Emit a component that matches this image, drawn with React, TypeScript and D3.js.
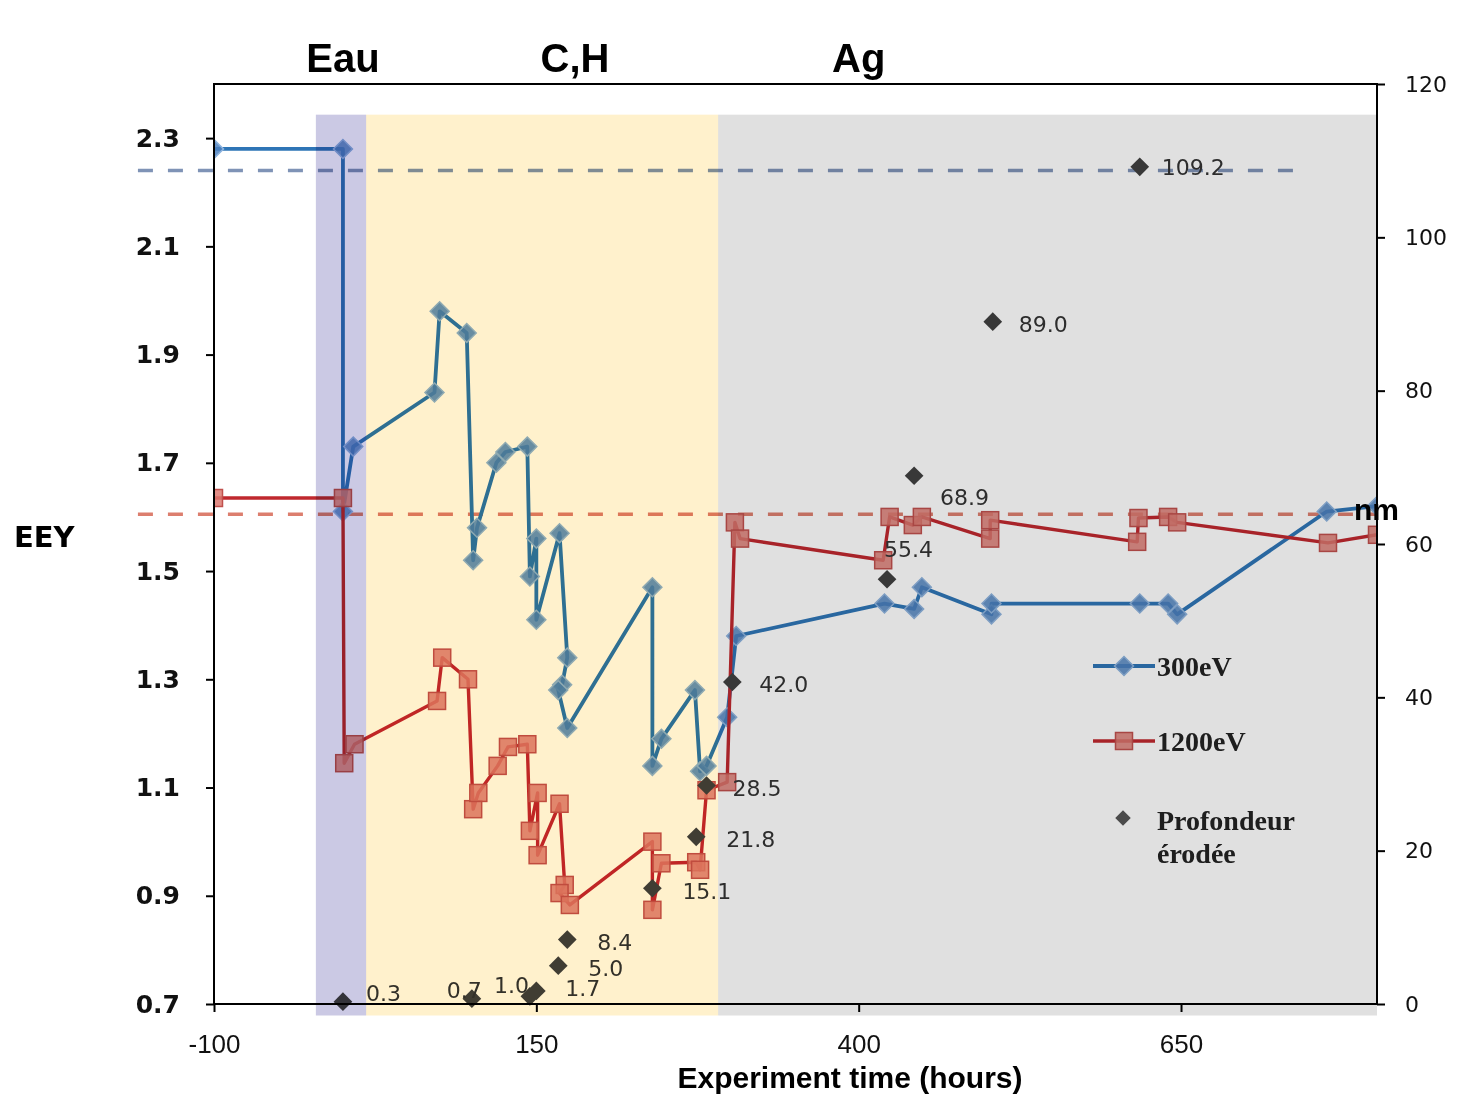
import React, { useEffect, useRef } from 'react';
import * as d3 from 'd3';

// EEY, 300 eV (left axis)
const hours300 = [-100, 0, 0, 8, 71, 75, 96, 101, 104, 119, 126, 143, 145, 150, 150, 168, 174, 170, 167, 174, 240, 240, 247, 273, 277, 282, 298, 305, 420, 443, 449, 503, 503, 618, 640, 647, 763, 802];
const eey300 = [2.28, 2.28, 1.61, 1.73, 1.83, 1.98, 1.94, 1.52, 1.58, 1.7, 1.72, 1.73, 1.49, 1.56, 1.41, 1.57, 1.34, 1.29, 1.28, 1.21, 1.47, 1.14, 1.19, 1.28, 1.13, 1.14, 1.23, 1.38, 1.44, 1.43, 1.47, 1.42, 1.44, 1.44, 1.44, 1.42, 1.61, 1.62];

// EEY, 1200 eV (left axis)
const hours1200 = [-100, 0, 1, 9, 73, 77, 97, 101, 105, 120, 128, 143, 145, 151, 151, 168, 172, 168, 176, 240, 240, 247, 274, 277, 282, 298, 304, 308, 419, 424, 442, 449, 502, 502, 616, 617, 640, 647, 764, 802];
const eey1200 = [1.635, 1.635, 1.145, 1.18, 1.26, 1.34, 1.3, 1.06, 1.09, 1.14, 1.175, 1.18, 1.02, 1.09, 0.975, 1.07, 0.92, 0.905, 0.883, 1.0, 0.874, 0.96, 0.962, 0.948, 1.095, 1.11, 1.59, 1.56, 1.52, 1.6, 1.585, 1.6, 1.56, 1.594, 1.554, 1.598, 1.6, 1.59, 1.552, 1.567];

// eroded depth in nm (right axis)
const depthHours = [0, 100, 145, 150, 167, 174, 240, 274, 282, 302, 422, 443, 504, 618];
const depthNm = [0.3, 0.7, 1.0, 1.7, 5.0, 8.4, 15.1, 21.8, 28.5, 42.0, 55.4, 68.9, 89.0, 109.2];

// experiment phases
const phaseNames = ['Eau', 'C,H', 'Ag'];
const phaseStart = [-21, 18, 291];
const phaseEnd = [18, 291, 802];
const phaseLabelAt = [0, 180, 400];

// dashed reference levels (EEY)
const refLevels = [2.24, 1.605];
const refFrom = [-159, -159];
const refTo = [746, 802];

const xTicks = [-100, 150, 400, 650];
const eeyTicks = [0.7, 0.9, 1.1, 1.3, 1.5, 1.7, 1.9, 2.1, 2.3];
const nmTicks = [0, 20, 40, 60, 80, 100, 120];

const legendNames = ['300eV', '1200eV', 'Profondeur', 'érodée'];

// label nudges for the depth values [dx, dy] in px
const depthLabelNudge = [[23, -8], [-25, -8], [-36, -11], [29, -2], [30, 3], [30, 3], [30, 3], [30, 3], [26, 3], [27, 2], [-3, -30], [26, 22], [26, 3], [22, 1]];

const W = 1457;
const H = 1096;
const plot = { left: 214, right: 1377, top: 84, bottom: 1004 };

const colors = {
  blueLine: '#2e75b6',
  blueFill: '#4f83c0',
  blueEdge: '#8fb4de',
  redLine: '#c0282e',
  redFill: '#dc7a72',
  redEdge: '#c0504d',
  depth: '#404040',
  refBlue: '#7f93b6',
  refRed: '#dc7e6e',
  bands: ['#cbc9e4', '#fff1cc', '#e0e0e0'],
};

const App = () => {
  const svgRef = useRef(null);

  useEffect(() => {
    document.body.style.margin = '0';
    if (!svgRef.current) return;
    const svg = d3.select(svgRef.current);
    svg.selectAll('*').remove();

    const x = d3.scaleLinear().domain([-100, 802]).range([plot.left, plot.right]);
    const yL = d3.scaleLinear().domain([0.7, 2.4]).range([plot.bottom, plot.top]);
    const yR = d3.scaleLinear().domain([0, 120]).range([plot.bottom, plot.top]);

    svg.append('rect').attr('width', W).attr('height', H).attr('fill', '#fff');

    svg.append('clipPath').attr('id', 'plotClip')
      .append('rect')
      .attr('x', plot.left).attr('y', plot.top)
      .attr('width', plot.right - plot.left).attr('height', plot.bottom - plot.top);

    // dashed reference levels
    refLevels.forEach((v, i) => {
      svg.append('line')
        .attr('x1', x(refFrom[i])).attr('x2', x(refTo[i]))
        .attr('y1', yL(v)).attr('y2', yL(v))
        .attr('stroke', i === 0 ? colors.refBlue : colors.refRed)
        .attr('stroke-width', 3.5)
        .attr('stroke-dasharray', '15 15');
    });

    const data300 = hours300.map((h, i) => ({ h, v: eey300[i] }));
    const data1200 = hours1200.map((h, i) => ({ h, v: eey1200[i] }));
    const depth = depthHours.map((h, i) => ({ h, v: depthNm[i] }));

    const line = d3.line<any>().x(d => x(d.h)).y(d => yL(d.v));
    const diamond = (s) => d3.symbol(d3.symbolSquare, s)();

    const g = svg.append('g').attr('clip-path', 'url(#plotClip)');

    // 300 eV
    g.append('path').datum(data300)
      .attr('fill', 'none').attr('stroke', colors.blueLine)
      .attr('stroke-width', 3.8).attr('stroke-linejoin', 'round')
      .attr('d', line);
    g.selectAll('.m300').data(data300).join('path')
      .attr('d', diamond(180))
      .attr('transform', d => `translate(${x(d.h)},${yL(d.v)}) rotate(45)`)
      .attr('fill', colors.blueFill).attr('fill-opacity', 0.85)
      .attr('stroke', colors.blueEdge).attr('stroke-width', 1.5);

    // 1200 eV
    g.append('path').datum(data1200)
      .attr('fill', 'none').attr('stroke', colors.redLine)
      .attr('stroke-width', 3.4).attr('stroke-linejoin', 'round')
      .attr('d', line);
    g.selectAll('.m1200').data(data1200).join('rect')
      .attr('x', d => x(d.h) - 8.5).attr('y', d => yL(d.v) - 8.5)
      .attr('width', 17).attr('height', 17)
      .attr('fill', colors.redFill).attr('fill-opacity', 0.85)
      .attr('stroke', colors.redEdge).attr('stroke-width', 1.5);

    // eroded depth
    svg.selectAll('.md').data(depth).join('path')
      .attr('d', diamond(175))
      .attr('transform', d => `translate(${x(d.h)},${yR(d.v)}) rotate(45)`)
      .attr('fill', colors.depth);
    svg.selectAll('.ld').data(depth).join('text')
      .attr('x', (d, i) => x(d.h) + depthLabelNudge[i][0])
      .attr('y', (d, i) => yR(d.v) + depthLabelNudge[i][1])
      .attr('dominant-baseline', 'central')
      .attr('font-family', 'DejaVu Sans')
      .attr('font-size', 22)
      .attr('fill', '#333')
      .text(d => d.v.toFixed(1));

    // legend
    const lx0 = 1093, lx1 = 1155, ly = [666, 741, 818];
    svg.append('line').attr('x1', lx0).attr('x2', lx1).attr('y1', ly[0]).attr('y2', ly[0])
      .attr('stroke', colors.blueLine).attr('stroke-width', 3.8);
    svg.append('path').attr('d', diamond(180))
      .attr('transform', `translate(${(lx0 + lx1) / 2},${ly[0]}) rotate(45)`)
      .attr('fill', colors.blueFill).attr('fill-opacity', 0.85)
      .attr('stroke', colors.blueEdge).attr('stroke-width', 1.5);
    svg.append('line').attr('x1', lx0).attr('x2', lx1).attr('y1', ly[1]).attr('y2', ly[1])
      .attr('stroke', colors.redLine).attr('stroke-width', 3.4);
    svg.append('rect').attr('x', (lx0 + lx1) / 2 - 8.5).attr('y', ly[1] - 8.5)
      .attr('width', 17).attr('height', 17)
      .attr('fill', colors.redFill).attr('fill-opacity', 0.85)
      .attr('stroke', colors.redEdge).attr('stroke-width', 1.5);
    svg.append('path').attr('d', diamond(120))
      .attr('transform', `translate(${(lx0 + lx1) / 2 - 1},${ly[2]}) rotate(45)`)
      .attr('fill', '#555');
    const legendY = [ly[0], ly[1], ly[2] + 2, ly[2] + 35];
    legendNames.forEach((name, i) => {
      svg.append('text')
        .attr('x', 1157).attr('y', legendY[i])
        .attr('dominant-baseline', 'central')
        .attr('font-family', 'Liberation Serif')
        .attr('font-weight', 'bold')
        .attr('font-size', 28)
        .attr('fill', '#222')
        .text(name);
    });

    // phase bands, multiplied over everything like the original overlay
    phaseNames.forEach((name, i) => {
      svg.append('rect')
        .attr('x', x(phaseStart[i]))
        .attr('width', x(phaseEnd[i]) - x(phaseStart[i]))
        .attr('y', yR(116))
        .attr('height', yR(-1.5) - yR(116))
        .attr('fill', colors.bands[i])
        .style('mix-blend-mode', 'multiply');
      svg.append('text')
        .attr('x', x(phaseLabelAt[i])).attr('y', 72)
        .attr('text-anchor', 'middle')
        .attr('font-family', 'Liberation Sans')
        .attr('font-weight', 'bold')
        .attr('font-size', 40)
        .text(name);
    });

    // axes
    const axL = svg.append('g').attr('transform', `translate(${plot.left},0)`)
      .call(d3.axisLeft(yL).tickValues(eeyTicks).tickFormat(d3.format('.1f')).tickSize(8).tickPadding(26));
    axL.selectAll('text').attr('font-family', 'DejaVu Sans').attr('font-weight', 'bold').attr('font-size', 25).attr('fill', '#111');

    const axR = svg.append('g').attr('transform', `translate(${plot.right},0)`)
      .call(d3.axisRight(yR).tickValues(nmTicks).tickSize(8).tickPadding(20));
    axR.selectAll('text').attr('font-family', 'DejaVu Sans').attr('font-size', 22).attr('fill', '#111');

    const axB = svg.append('g').attr('transform', `translate(0,${plot.bottom})`)
      .call(d3.axisBottom(x).tickValues(xTicks).tickFormat(d => String(d)).tickSize(8).tickPadding(23));
    axB.selectAll('text').attr('font-family', 'Liberation Sans').attr('font-size', 26).attr('fill', '#111');

    [axL, axR, axB].forEach(a => {
      a.select('.domain').remove();
      a.selectAll('line').attr('stroke', '#000').attr('stroke-width', 2);
    });

    svg.append('rect')
      .attr('x', plot.left).attr('y', plot.top)
      .attr('width', plot.right - plot.left).attr('height', plot.bottom - plot.top)
      .attr('fill', 'none').attr('stroke', '#000').attr('stroke-width', 2);

    // titles
    svg.append('text').attr('x', 14).attr('y', 547)
      .attr('font-family', 'DejaVu Sans').attr('font-weight', 'bold').attr('font-size', 29)
      .text('EEY');
    svg.append('text').attr('x', 1354).attr('y', 520)
      .attr('font-family', 'Liberation Sans').attr('font-weight', 'bold').attr('font-size', 30)
      .text('nm');
    svg.append('text').attr('x', 850).attr('y', 1088)
      .attr('text-anchor', 'middle')
      .attr('font-family', 'Liberation Sans').attr('font-weight', 'bold').attr('font-size', 30)
      .text('Experiment time (hours)');
  }, []);

  return (
    <div style={{ width: W, height: H }}>
      <svg ref={svgRef} width={W} height={H} style={{ display: 'block' }}></svg>
    </div>
  );
};

export default App;
